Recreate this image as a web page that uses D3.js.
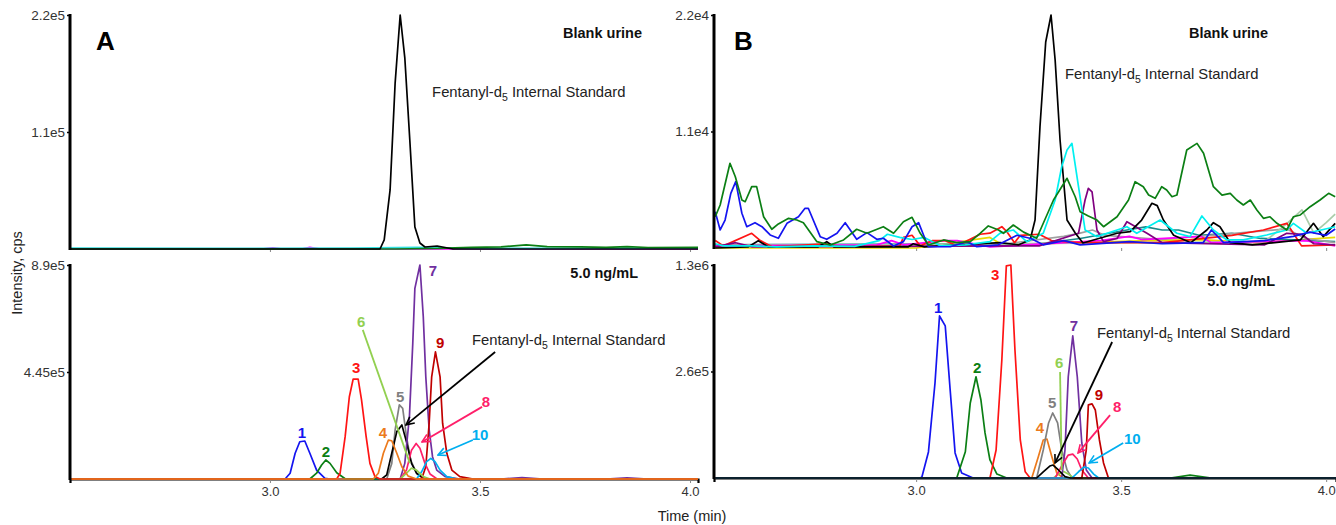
<!DOCTYPE html>
<html>
<head>
<meta charset="utf-8">
<script src="https://cdn.jsdelivr.net/npm/d3@7"></script>
<style>
body { margin: 0; background: #fff; }
svg text { font-family: "Liberation Sans", Arial, Helvetica, sans-serif; }
</style>
</head>
<body>
<svg id="chart" width="1336" height="525"></svg>
<script>
// time axis (min)
const timeDomainA = [2.524, 4.019]
const timeDomainB = [2.507, 4.024]
const timeTicks = [3.0, 3.5, 4.0]

// y ticks as printed on the figure
const aTopTickVals = [1.1e5, 2.2e5]
const aTopTickLabels = ['1.1e5', '2.2e5']
const aBotTickVals = [4.45e5, 8.9e5]
const aBotTickLabels = ['4.45e5', '8.9e5']
const bTopTickVals = [1.1e4, 2.2e4]
const bTopTickLabels = ['1.1e4', '2.2e4']
const bBotTickVals = [6.5e5, 1.3e6]
const bBotTickLabels = ['2.6e5', '1.3e6']

// ---- A, blank urine  [time, cps]
const aBlankIS = [[2.52,0],[3.262,0],[3.272,8500],[3.286,55500],[3.298,156000],[3.310,220000],[3.321,180000],[3.333,102000],[3.345,20700],[3.357,5600],[3.369,1900],[3.398,2800],[3.436,0],[4.02,0]]
const aBlankGreen = [[2.52,0],[3.30,0],[3.40,500],[3.48,1600],[3.55,2000],[3.61,3800],[3.66,2300],[3.74,2000],[3.80,1500],[3.85,2200],[3.90,1400],[4.02,1500]]
const aBlankCyan = [[2.52,800],[2.90,600],[3.20,900],[3.35,1500],[3.45,600],[4.02,800]]
const aBlankMagenta = [[2.52,0],[2.98,0],[3.007,1200],[3.03,0],[3.075,0],[3.095,1500],[3.12,0],[4.02,0]]
const aBlankLilac = [[2.52,300],[4.02,300]]

// ---- A, 5.0 ng/mL
const aSpiked = {
  '1': [[2.52,0],[3.036,0],[3.048,24000],[3.060,107000],[3.071,155000],[3.083,158000],[3.095,107000],[3.111,37000],[3.131,3000],[3.143,0],[4.02,0]],
  '2': [[2.52,0],[3.095,0],[3.111,24000],[3.123,58000],[3.133,79000],[3.143,65000],[3.159,26000],[3.179,1000],[3.19,0],[4.02,0]],
  '3': [[2.52,0],[3.159,0],[3.167,24000],[3.179,176000],[3.189,342000],[3.198,415000],[3.210,415000],[3.218,329000],[3.229,176000],[3.238,65000],[3.250,10000],[3.262,0],[4.02,0]],
  '4': [[2.52,0],[3.246,0],[3.258,24000],[3.270,107000],[3.282,162000],[3.290,159000],[3.302,107000],[3.314,51000],[3.329,12000],[3.349,0],[4.02,0]],
  '5': [[2.52,0],[3.278,0],[3.290,65000],[3.298,204000],[3.308,308000],[3.316,294000],[3.325,176000],[3.335,79000],[3.349,24000],[3.365,3000],[3.38,0],[4.02,0]],
  'IS': [[2.52,0],[3.266,0],[3.278,17000],[3.290,107000],[3.302,197000],[3.314,225000],[3.325,155000],[3.337,65000],[3.349,24000],[3.365,3000],[3.38,0],[4.02,0]],
  '6': [[2.52,0],[3.310,0],[3.325,24000],[3.337,45000],[3.349,37000],[3.365,10000],[3.381,0],[4.02,0]],
  '7': [[2.52,0],[3.310,0],[3.321,65000],[3.332,259000],[3.340,564000],[3.345,793000],[3.357,890000],[3.365,675000],[3.371,425000],[3.379,204000],[3.387,93000],[3.397,37000],[3.417,10000],[3.452,0],[3.55,0],[3.60,6000],[3.65,0],[3.80,0],[3.85,5000],[3.90,0],[4.02,0]],
  '8': [[2.52,0],[3.310,0],[3.325,37000],[3.337,120000],[3.348,148000],[3.357,128000],[3.369,65000],[3.381,21000],[3.397,1000],[3.41,0],[4.02,0]],
  '9': [[2.52,0],[3.361,0],[3.371,51000],[3.379,232000],[3.385,425000],[3.394,529000],[3.405,425000],[3.411,232000],[3.421,107000],[3.433,37000],[3.452,10000],[3.484,0],[4.02,0]],
  '10': [[2.52,0],[3.349,0],[3.361,30000],[3.373,72000],[3.383,86000],[3.393,72000],[3.405,37000],[3.421,10000],[3.445,0],[4.02,0]]
}

// ---- B, blank urine
const bBlankGreen = [[2.510,2950],[2.522,4060],[2.546,8000],[2.559,6730],[2.575,4530],[2.583,4370],[2.599,5790],[2.611,5790],[2.628,2950],[2.648,1770],[2.664,2270],[2.689,2800],[2.709,2640],[2.725,2390],[2.758,600],[2.790,280],[2.823,760],[2.855,1770],[2.880,1390],[2.920,2010],[2.945,1390],[2.969,2480],[2.990,2900],[3.010,1390],[3.030,280],[3.067,760],[3.099,500],[3.132,600],[3.156,1390],[3.176,2080],[3.201,1700],[3.213,1390],[3.237,2170],[3.262,1500],[3.294,920],[3.335,4530],[3.368,6580],[3.388,4840],[3.400,3430],[3.420,3020],[3.441,2640],[3.457,2010],[3.490,2950],[3.518,4530],[3.534,6260],[3.554,5790],[3.567,5000],[3.583,4690],[3.599,5790],[3.611,5480],[3.624,4840],[3.636,5000],[3.660,9250],[3.685,9880],[3.701,8940],[3.725,5790],[3.746,5000],[3.766,5160],[3.782,4530],[3.798,4060],[3.815,4530],[3.831,3590],[3.847,2800],[3.863,2950],[3.880,2330],[3.904,1700],[3.920,2950],[3.937,3120],[3.961,3900],[3.985,4530],[4.006,5160],[4.022,4840]]
const bBlankBlue = [[2.510,3430],[2.522,1700],[2.534,2640],[2.548,5160],[2.560,6260],[2.575,3280],[2.587,2010],[2.607,2390],[2.624,2010],[2.644,1230],[2.664,920],[2.685,2330],[2.713,2950],[2.729,3750],[2.737,3750],[2.766,1070],[2.782,820],[2.807,1390],[2.827,2390],[2.855,820],[2.880,1450],[2.904,820],[2.920,920],[2.945,190],[2.969,600],[2.990,2010],[3.006,2390],[3.018,1230],[3.030,120],[3.083,120],[3.124,600],[3.148,120],[3.20,300],[3.246,1200],[3.28,900],[3.31,300],[3.36,700],[3.40,300],[3.52,600],[3.60,400],[3.70,500],[3.72,1700],[3.75,500],[3.85,700],[3.92,1100],[3.96,1500],[4.00,1200],[4.022,1800]]
const bBlankCyan = [[2.510,400],[2.53,200],[2.60,200],[2.66,100],[2.75,200],[2.85,150],[2.91,700],[2.93,1300],[2.96,1000],[2.99,800],[3.02,1000],[3.06,200],[3.12,300],[3.18,600],[3.205,1400],[3.237,1700],[3.270,600],[3.310,1390],[3.339,4530],[3.355,7670],[3.368,9250],[3.380,9880],[3.396,5790],[3.412,1700],[3.441,1070],[3.490,1700],[3.514,2010],[3.538,1390],[3.595,2640],[3.636,1390],[3.668,1070],[3.697,3020],[3.725,1700],[3.758,760],[3.798,760],[3.855,1230],[3.904,1700],[3.920,2330],[3.953,1390],[4.022,2010]]
const bBlankPurple = [[2.51,100],[2.56,500],[2.60,100],[3.30,200],[3.396,1390],[3.412,4530],[3.420,5640],[3.429,5310],[3.441,1700],[3.457,600],[3.49,900],[3.514,2480],[3.563,1390],[3.60,500],[3.85,300],[3.904,1390],[3.94,1300],[3.97,400],[4.022,300]]
const bBlankBlack = [[2.51,0],[2.59,100],[2.615,690],[2.64,100],[2.76,100],[2.782,600],[2.80,100],[2.98,100],[2.993,400],[3.02,100],[3.205,500],[3.25,300],[3.278,760],[3.290,2640],[3.302,11420],[3.316,19450],[3.329,22000],[3.339,17750],[3.351,10200],[3.368,2640],[3.388,1420],[3.407,470],[3.49,1390],[3.522,1540],[3.550,2640],[3.575,4220],[3.588,4000],[3.603,2640],[3.628,1200],[3.67,500],[3.709,1700],[3.725,2390],[3.741,2010],[3.766,500],[3.82,300],[3.937,760],[3.969,2330],[3.993,1070],[4.022,2330]]
const bBlankRed = [[2.51,700],[2.53,200],[2.599,1390],[2.62,700],[2.65,100],[2.78,400],[2.82,100],[2.96,200],[2.969,1000],[2.99,1200],[3.01,200],[3.04,700],[3.07,700],[3.10,200],[3.156,1300],[3.18,1400],[3.209,2010],[3.22,1600],[3.24,500],[3.254,1200],[3.30,1300],[3.33,700],[3.40,500],[3.60,500],[3.65,700],[3.77,1200],[3.847,1700],[3.904,2330],[3.92,1400],[3.94,200],[4.022,300]]
const bBlankMagenta = [[2.51,200],[2.904,300],[2.94,700],[2.97,300],[3.07,700],[3.10,700],[3.18,100],[3.45,700],[3.52,1100],[3.55,800],[3.695,1100],[3.72,500],[3.95,700],[4.022,200]]
const bBlankYellow = [[2.51,0],[3.0,0],[3.18,1000],[3.21,300],[3.57,700],[3.69,800],[3.83,500],[4.022,1000]]
const bBlankTeal = [[2.51,300],[3.30,400],[3.40,900],[3.514,1700],[3.56,2000],[3.60,1700],[3.64,1700],[3.69,1200],[3.77,1390],[3.84,900],[4.022,600]]
const bBlankGrey = [[2.51,300],[3.20,300],[3.36,1100],[3.40,1400],[3.43,1700],[3.46,1200],[3.60,800],[3.904,1800],[3.95,900],[4.022,500]]
const bBlankPale = [[2.51,200],[3.85,600],[3.904,2300],[3.941,3590],[3.97,1400],[4.00,2400],[4.022,3200]]

// ---- B, 5.0 ng/mL
const bSpiked = {
  '1': [[2.51,0],[3.010,0],[3.014,6000],[3.030,159000],[3.046,580000],[3.057,989000],[3.071,928000],[3.083,537000],[3.095,153000],[3.111,31000],[3.139,0],[4.03,0]],
  '2': [[2.51,0],[3.099,0],[3.120,160000],[3.132,458000],[3.146,618000],[3.158,476000],[3.168,275000],[3.180,110000],[3.197,24000],[3.221,0],[4.03,0]],
  '3': [[2.51,0],[3.180,0],[3.195,171000],[3.209,720000],[3.220,1295000],[3.231,1300000],[3.241,781000],[3.254,232000],[3.266,38000],[3.278,0],[4.03,0]],
  '4': [[2.51,0],[3.282,0],[3.298,130000],[3.310,232000],[3.319,238000],[3.331,130000],[3.343,30000],[3.359,0],[4.03,0]],
  '5': [[2.51,0],[3.294,0],[3.310,171000],[3.323,336000],[3.333,397000],[3.345,336000],[3.355,171000],[3.368,49000],[3.380,0],[4.03,0]],
  '6': [[2.51,0],[3.335,0],[3.348,25000],[3.360,40000],[3.372,22000],[3.385,0],[4.03,0]],
  '7': [[2.51,0],[3.355,0],[3.363,171000],[3.371,618000],[3.382,867000],[3.393,618000],[3.404,214000],[3.415,49000],[3.429,0],[4.03,0]],
  '8': [[2.51,0],[3.339,0],[3.359,92000],[3.371,140000],[3.382,146000],[3.393,116000],[3.404,49000],[3.420,0],[4.03,0]],
  '9': [[2.51,0],[3.404,0],[3.415,171000],[3.420,446000],[3.429,452000],[3.437,415000],[3.447,232000],[3.457,92000],[3.469,0],[4.03,0]],
  '10': [[2.51,0],[3.380,0],[3.396,38000],[3.410,67000],[3.420,61000],[3.433,24000],[3.445,0],[4.03,0]],
  'bump': [[2.51,0],[3.62,0],[3.668,18000],[3.72,0],[4.03,0]],
  'IS': [[2.51,0],[3.294,0],[3.310,38000],[3.326,73000],[3.334,79000],[3.347,49000],[3.363,8000],[3.376,0],[4.03,0]]
}

// peak number labels [text, time, cps] and arrows [key, from, to, head]
const aLabels = [['1',3.076,1.95e5],['2',3.133,1.16e5],['3',3.205,4.62e5],['4',3.269,1.95e5],['5',3.310,3.41e5],['6',3.217,6.53e5],['7',3.388,8.65e5],['8',3.514,3.2e5],['9',3.405,5.66e5],['10',3.500,1.83e5]]
const aArrows = [['6',[3.221,6.2e5],[3.333,6.6e4],false],['IS',[3.536,5.28e5],[3.324,2.25e5],true],['8',[3.505,3.0e5],[3.362,1.54e5],true],['10',[3.483,1.62e5],[3.400,1.0e5],true]]
const bLabels = [['1',3.054,1.04e6],['2',3.149,6.71e5],['3',3.193,1.24e6],['4',3.302,3.05e5],['5',3.332,4.58e5],['6',3.349,7.02e5],['7',3.385,9.28e5],['8',3.490,4.33e5],['9',3.446,5.07e5],['10',3.527,2.38e5]]
const bArrows = [['6',[3.351,6.47e5],[3.355,4.9e4],false],['IS',[3.478,8.3e5],[3.339,9.2e4],true],['8',[3.473,3.84e5],[3.395,1.53e5],true],['10',[3.505,2.14e5],[3.422,9.2e4],true]]

// where the IS caption sits [time, cps]
const aTopISText = [3.386, 1.43e5]
const bTopISText = [3.363, 1.6e4]
const aBotISText = [3.481, 5.57e5]
const bBotISText = [3.441, 8.54e5]

const colour = {
  '1':'#1414f0','2':'#0b7f14','3':'#ff1414','4':'#ec7a1c','5':'#808080','6':'#92d050',
  '7':'#7030a0','8':'#ff1f6a','9':'#c00000','10':'#00aeef','IS':'#000000','bump':'#0b7f14'
}

const svg = d3.select('#chart')
const defs = svg.append('defs')

// arrow heads
Object.keys(colour).forEach(k => {
  defs.append('marker')
    .attr('id', 'head' + k)
    .attr('viewBox', '0 0 10 10')
    .attr('refX', 9).attr('refY', 5)
    .attr('markerWidth', 10).attr('markerHeight', 10)
    .attr('markerUnits', 'userSpaceOnUse')
    .attr('orient', 'auto')
    .append('path')
      .attr('d', 'M1,1 L9,5 L1,9')
      .attr('fill', 'none')
      .attr('stroke', colour[k])
      .attr('stroke-width', 1.6)
})

const panels = [
  {id:'aTop', xDomain:timeDomainA, yMax:2.2e5, left:70, right:698, top:15, bottom:249,
   tickVals:aTopTickVals, tickLabels:aTopTickLabels, bottomAxis:false,
   traces:[[aBlankLilac,'#b9a7c9'],[aBlankMagenta,'#ff00ff'],[aBlankCyan,'#33e0e0'],[aBlankGreen,'#0b7f14'],[aBlankIS,'#000']],
   title:'Blank urine', titleX:642, titleY:38, isText:aTopISText},
  {id:'aBot', xDomain:timeDomainA, yMax:8.9e5, left:70, right:698, top:265, bottom:479,
   tickVals:aBotTickVals, tickLabels:aBotTickLabels, bottomAxis:true,
   traces:['5','IS','7','9','8','10','6','1','2','3','4'].map(k => [aSpiked[k], colour[k]]),
   title:'5.0 ng/mL', titleX:638, titleY:278, isText:aBotISText, labels:aLabels, arrows:aArrows},
  {id:'bTop', xDomain:timeDomainB, yMax:2.2e4, left:714, right:1336, top:15, bottom:248,
   tickVals:bTopTickVals, tickLabels:bTopTickLabels, bottomAxis:false,
   traces:[[bBlankYellow,'#e8dc00'],[bBlankTeal,'#1a8a8a'],[bBlankGrey,'#a0a0a0'],[bBlankPale,'#a9cca9'],[bBlankMagenta,'#ff00ff'],
           [bBlankRed,'#ff1414'],[bBlankPurple,'#800080'],[bBlankBlack,'#000'],[bBlankCyan,'#00f0f0'],[bBlankBlue,'#1414f0'],[bBlankGreen,'#0b7f14']],
   title:'Blank urine', titleX:1268, titleY:38, isText:bTopISText},
  {id:'bBot', xDomain:timeDomainB, yMax:1.3e6, left:714, right:1336, top:265, bottom:478,
   tickVals:bBotTickVals, tickLabels:bBotTickLabels, bottomAxis:true,
   traces:['bump','1','2','3','4','5','6','7','8','9','10','IS'].map(k => [bSpiked[k], colour[k]]),
   title:'5.0 ng/mL', titleX:1275, titleY:286, isText:bBotISText, labels:bLabels, arrows:bArrows}
]

const isCaption = (sel, x, y) => {
  const t = sel.append('text').attr('x', x).attr('y', y)
    .attr('font-size', 14.8).attr('fill', '#222')
  t.append('tspan').text('Fentanyl-d')
  t.append('tspan').attr('font-size', 10.5).attr('dy', 4).text('5')
  t.append('tspan').attr('dy', -4).text(' Internal Standard')
}

panels.forEach(p => {
  const x = d3.scaleLinear().domain(p.xDomain).range([p.left, p.right])
  const y = d3.scaleLinear().domain([0, p.yMax]).range([p.bottom, p.top])
  const g = svg.append('g').attr('class', p.id)

  defs.append('clipPath').attr('id', 'clip' + p.id)
    .append('rect')
      .attr('x', p.left).attr('y', p.top - 4)
      .attr('width', p.right - p.left).attr('height', p.bottom - p.top + 6)

  // x axis
  const xAxis = d3.axisBottom(x).tickValues(timeTicks).tickSizeOuter(0)
  const xg = g.append('g').attr('transform', `translate(0,${p.bottom})`)
  if (p.bottomAxis) {
    xg.call(xAxis.tickSize(4).tickPadding(4).tickFormat(d3.format('.1f')))
    xg.select('.domain').attr('stroke', '#000').attr('stroke-width', 2.2)
    xg.selectAll('text').attr('font-size', 13).attr('fill', '#333')
      .style('font-family', '"Liberation Sans", Arial, sans-serif')
  } else {
    xg.call(xAxis.tickSize(3).tickFormat(''))
    xg.select('.domain').remove()
  }
  xg.selectAll('.tick line').attr('stroke', '#888')

  // traces
  const line = d3.line().x(d => x(d[0])).y(d => y(Math.min(d[1], p.yMax)))
  g.append('g').attr('clip-path', `url(#clip${p.id})`)
    .selectAll('path')
    .data(p.traces)
    .enter()
    .append('path')
      .attr('d', d => line(d[0]))
      .attr('fill', 'none')
      .attr('stroke', d => d[1])
      .attr('stroke-width', 1.7)
      .attr('stroke-linejoin', 'round')

  // y axis
  const yg = g.append('g').attr('transform', `translate(${p.left},0)`)
    .call(d3.axisLeft(y).tickValues(p.tickVals)
      .tickFormat((d, i) => p.tickLabels[i]).tickSize(3).tickSizeOuter(0).tickPadding(2))
  yg.select('.domain').attr('stroke', '#000').attr('stroke-width', 3)
    .attr('d', `M0,${p.top - 1}V${p.bottom + 1}`)
  yg.selectAll('.tick line').attr('stroke', '#000').attr('stroke-width', 1.5)
  yg.selectAll('text').attr('font-size', 13.5).attr('fill', '#333')
    .style('font-family', '"Liberation Sans", Arial, sans-serif')

  // captions
  g.append('text').attr('x', p.titleX).attr('y', p.titleY)
    .attr('text-anchor', 'end').attr('font-weight', 'bold').attr('font-size', 14.5)
    .attr('fill', '#111').text(p.title)
  isCaption(g, x(p.isText[0]), y(p.isText[1]))

  // arrows and peak numbers
  if (p.arrows) {
    g.selectAll('line.arrow')
      .data(p.arrows)
      .enter()
      .append('line')
        .attr('class', 'arrow')
        .attr('x1', d => x(d[1][0])).attr('y1', d => y(d[1][1]))
        .attr('x2', d => x(d[2][0])).attr('y2', d => y(d[2][1]))
        .attr('stroke', d => colour[d[0]])
        .attr('stroke-width', 1.8)
        .attr('marker-end', d => d[3] ? `url(#head${d[0]})` : null)
  }
  if (p.labels) {
    g.selectAll('text.peak')
      .data(p.labels)
      .enter()
      .append('text')
        .attr('class', 'peak')
        .attr('x', d => x(d[1])).attr('y', d => y(d[2]))
        .attr('dy', '0.36em')
        .attr('text-anchor', 'middle')
        .attr('font-weight', 'bold').attr('font-size', 15)
        .attr('fill', d => colour[d[0]])
        .text(d => d[0])
  }
})

// panel letters and shared axis titles
svg.append('text').attr('x', 96).attr('y', 50)
  .attr('font-size', 26).attr('font-weight', 'bold').text('A')
svg.append('text').attr('x', 734).attr('y', 50)
  .attr('font-size', 26).attr('font-weight', 'bold').text('B')

svg.append('text')
  .attr('transform', 'translate(22,273) rotate(-90)')
  .attr('text-anchor', 'middle').attr('font-size', 14.5).attr('fill', '#222')
  .text('Intensity, cps')

svg.append('text').attr('x', 692).attr('y', 521)
  .attr('text-anchor', 'middle').attr('font-size', 14.5).attr('fill', '#222')
  .text('Time (min)')
</script>
</body>
</html>
